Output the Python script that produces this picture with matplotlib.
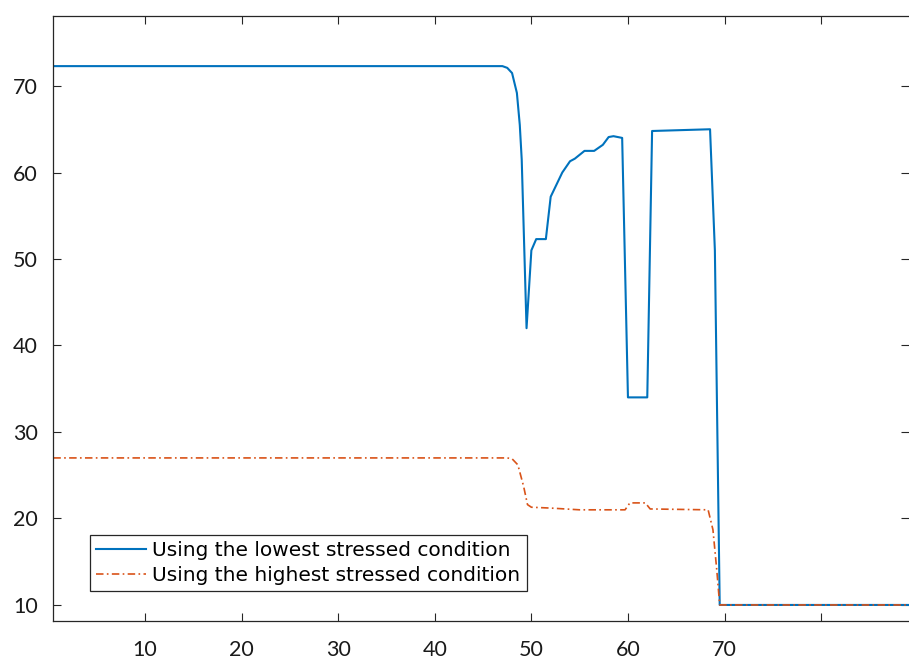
import matplotlib
matplotlib.use("Agg")
import matplotlib.pyplot as plt

# ---- data ----
x_low = [0.5, 47.0, 47.5, 48.0, 48.5, 48.8, 49.0, 49.5, 50.0, 50.5, 51.5, 52.0,
         52.6, 53.2, 54.0, 54.5, 55.5, 56.5, 57.4, 58.0, 58.5, 59.4, 60.0, 62.0,
         62.5, 68.5, 69.0, 69.5, 89.1]
y_low = [72.3, 72.3, 72.1, 71.5, 69.2, 65.5, 61.5, 42.0, 51.0, 52.3, 52.3, 57.2,
         58.6, 60.0, 61.3, 61.6, 62.5, 62.5, 63.2, 64.1, 64.2, 64.0, 34.0, 34.0,
         64.8, 65.0, 51.0, 10.0, 10.0]

x_high = [0.5, 47.5, 48.0, 48.6, 49.2, 49.6, 50.0, 52.0, 55.0, 59.7, 60.2, 61.8,
          62.3, 68.3, 68.8, 69.2, 69.5, 89.1]
y_high = [27.0, 27.0, 26.9, 26.2, 23.7, 21.6, 21.3, 21.2, 21.0, 21.0, 21.8, 21.8,
          21.1, 21.0, 18.7, 14.0, 10.0, 10.0]

labels = ["Using the lowest stressed condition",
          "Using the highest stressed condition"]
xticks = [10, 20, 30, 40, 50, 60, 70, 80]
xticklabels = ["10", "20", "30", "40", "50", "60", "70", ""]
yticks = [10, 20, 30, 40, 50, 60, 70]
yticklabels = ["10", "20", "30", "40", "50", "60", "70"]

fig = plt.figure(figsize=(9.09, 6.59), dpi=100)
ax = fig.add_axes([0.05864, 0.05812, 0.94136, 0.91806])

ax.plot(x_low, y_low, color="#0072BD", lw=1.5, label=labels[0])
ax.plot(x_high, y_high, color="#D95319", lw=1.2, linestyle=(0, (4.5, 2, 1, 2)),
        label=labels[1])

ax.set_xlim(0.5, 89.1)
ax.set_ylim(8.18, 78.13)

ax.set_xticks(xticks)
ax.set_xticklabels(xticklabels)
ax.set_yticks(yticks)
ax.set_yticklabels(yticklabels)

axcol = "#262626"
for s in ["left", "top", "bottom"]:
    ax.spines[s].set_color(axcol)
    ax.spines[s].set_linewidth(0.9)
ax.spines["right"].set_visible(False)

ax.tick_params(axis="both", direction="in", length=6, width=0.8, color=axcol,
               top=True, right=True, labelcolor="#1a1a1a")
ax.tick_params(axis="x", pad=14)
ax.tick_params(axis="y", pad=11)
for lab in ax.get_xticklabels() + ax.get_yticklabels():
    lab.set_fontfamily("Lato")
    lab.set_fontsize(15.5)

leg = ax.legend(loc="lower left", bbox_to_anchor=(0.0429, 0.049),
                borderaxespad=0, frameon=True, fancybox=False,
                prop={"family": "DejaVu Sans", "size": 14.5},
                handlelength=2.5, handletextpad=0.3, borderpad=0.3,
                labelspacing=0.3)
leg.get_frame().set_edgecolor(axcol)
leg.get_frame().set_linewidth(0.9)
leg.get_frame().set_facecolor("white")
leg.get_frame().set_alpha(1)

fig.savefig("out.png", dpi=100)
